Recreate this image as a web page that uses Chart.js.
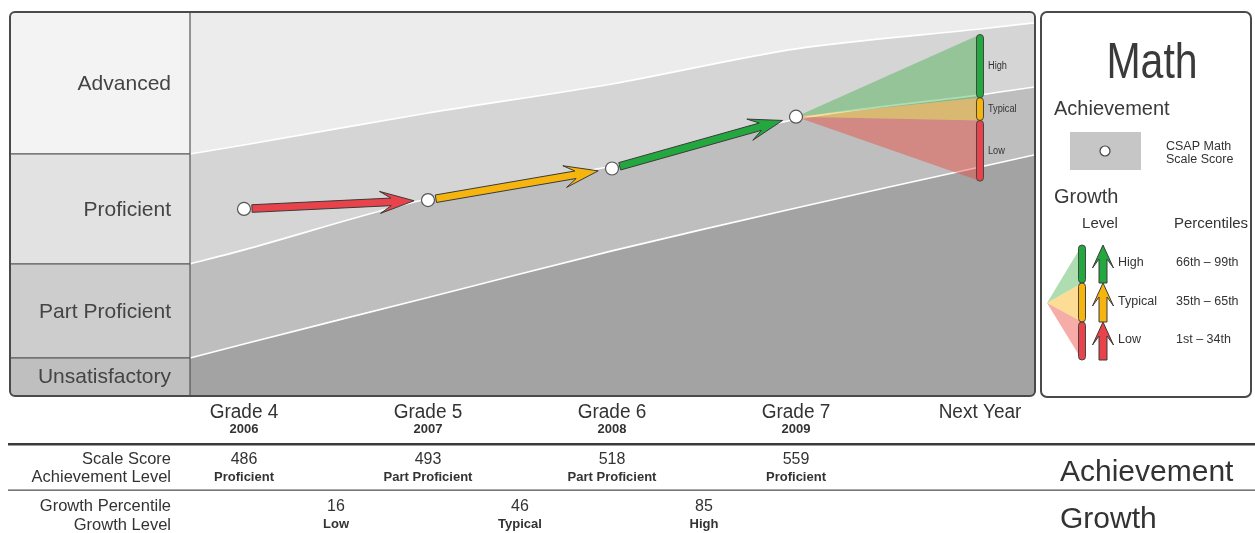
<!DOCTYPE html>
<html><head><meta charset="utf-8">
<script src="https://cdn.jsdelivr.net/npm/chart.js@4.4.0/dist/chart.umd.min.js"></script>
<style>
html,body{margin:0;padding:0;background:#fff;}
#wrap{position:relative;width:1255px;height:533px;}
</style></head><body>
<div id="wrap"><canvas id="c"></canvas></div>
<script>
// ---------- data ----------
const grades = ['Grade 4','Grade 5','Grade 6','Grade 7','Next Year'];
const years = ['2006','2007','2008','2009',''];
const scaleScores = [486,493,518,559];
const achievementLevels = ['Proficient','Part Proficient','Part Proficient','Proficient'];
const growthPercentiles = [16,46,85];
const growthLevels = ['Low','Typical','High'];
const levelNames = ['Advanced','Proficient','Part Proficient','Unsatisfactory'];
const cutX = [-0.2935,0,1,2,3,4,4.2935];
const cutAdvanced = [529.5,536.6,561.9,584.9,612.6,628.4,633.2];
const cutProficient = [442.5,453.6,494,520,557,576.2,582.5];
const cutPartProficient = [368.1,379.2,416,452.8,486.8,519.2,528.7];
const projectionNames = ['High','Typical','Low'];
const projectionEdges = [624,574,556,508];
const legendPercentiles = ['66th \u2013 99th','35th \u2013 65th','1st \u2013 34th'];

// ---------- style ----------
const FONT = '"Liberation Sans", Arial, sans-serif';
const TXT = '#3a3a3a';
const growthColors = {High:'#22a83f', Typical:'#f5b50e', Low:'#e8434a'};
const coneColors = {High:'rgba(60,175,70,0.42)', Typical:'rgba(250,180,20,0.45)', Low:'rgba(235,70,60,0.45)'};
const bandPlot = ['#ececec','#d5d5d5','#bebebe','#a3a3a3'];
const bandLabel = ['#f3f3f3','#e2e2e2','#cdcdcd','#bfbfbf'];

function rr(c,x,y,w,h,r){c.beginPath();c.moveTo(x+r,y);c.lineTo(x+w-r,y);c.arcTo(x+w,y,x+w,y+r,r);c.lineTo(x+w,y+h-r);c.arcTo(x+w,y+h,x+w-r,y+h,r);c.lineTo(x+r,y+h);c.arcTo(x,y+h,x,y+h-r,r);c.lineTo(x,y+r);c.arcTo(x,y,x+r,y,r);c.closePath();}
function vbar(c,x,y1,y2,w,color){rr(c,x-w/2,y1,w,y2-y1,w/2);c.fillStyle=color;c.fill();c.lineWidth=1;c.strokeStyle='#444';c.stroke();}
function arrow(c,x1,y1,x2,y2,color,o){
  const dx=x2-x1,dy=y2-y1,L=Math.hypot(dx,dy),ux=dx/L,uy=dy/L,nx=-uy,ny=ux;
  const P=(a,b)=>[x1+ux*a+nx*b,y1+uy*a+ny*b];
  const pts=[P(0,o.sw),P(L-o.notch,o.sw),P(L-o.hl,o.hw),P(L,0),P(L-o.hl,-o.hw),P(L-o.notch,-o.sw),P(0,-o.sw)];
  c.beginPath();pts.forEach((p,i)=>i?c.lineTo(p[0],p[1]):c.moveTo(p[0],p[1]));c.closePath();
  c.fillStyle=color;c.fill();c.lineWidth=1;c.lineJoin='miter';c.strokeStyle='#3a3a3a';c.stroke();
}
function txt(c,s,x,y,font,align,color,base,sx){
  c.save();c.font=font;c.textAlign=align||'left';c.textBaseline=base||'alphabetic';c.fillStyle=color||TXT;
  if(sx){c.translate(x,y);c.scale(sx,1);c.fillText(s,0,0);}else c.fillText(s,x,y);
  c.restore();
}

const pts = (xs,ys)=>xs.map((x,i)=>({x,y:ys[i]}));

const bgPlugin = {
  id:'bg',
  beforeDraw(chart){
    const c=chart.ctx,a=chart.chartArea,ys=chart.scales.y;
    c.save();
    c.fillStyle='#fff';c.fillRect(0,0,chart.width,chart.height);
    c.fillStyle=bandPlot[3];c.fillRect(a.left,a.top,a.right-a.left,a.bottom-a.top);
    const edges=[a.top,ys.getPixelForValue(cutAdvanced[0]),ys.getPixelForValue(cutProficient[0]),ys.getPixelForValue(cutPartProficient[0]),a.bottom];
    for(let i=0;i<4;i++){c.fillStyle=bandLabel[i];c.fillRect(10,edges[i],a.left-10,edges[i+1]-edges[i]);}
    c.restore();
  },
  afterDatasetDraw(chart,args){
    if(args.index!==1) return;
    const c=chart.ctx,xs=chart.scales.x,ys=chart.scales.y;
    const ax=xs.getPixelForValue(3),ay=ys.getPixelForValue(scaleScores[3]),bx=xs.getPixelForValue(4);
    c.save();
    for(let i=0;i<3;i++){
      c.beginPath();c.moveTo(ax,ay);c.lineTo(bx,ys.getPixelForValue(projectionEdges[i]));c.lineTo(bx,ys.getPixelForValue(projectionEdges[i+1]));c.closePath();
      c.fillStyle=coneColors[projectionNames[i]];c.fill();
    }
    c.restore();
  },
  afterDatasetsDraw(chart){
    const c=chart.ctx,xs=chart.scales.x,ys=chart.scales.y;
    c.save();
    for(let i=0;i<growthLevels.length;i++){
      const x1=xs.getPixelForValue(i),y1=ys.getPixelForValue(scaleScores[i]);
      const x2=xs.getPixelForValue(i+1),y2=ys.getPixelForValue(scaleScores[i+1]);
      const L=Math.hypot(x2-x1,y2-y1),ux=(x2-x1)/L,uy=(y2-y1)/L;
      arrow(c,x1+ux*8,y1+uy*8,x2-ux*14,y2-uy*14,growthColors[growthLevels[i]],{sw:3.8,hl:34,hw:11,notch:23});
    }
    const bx=xs.getPixelForValue(4);
    for(let i=0;i<3;i++){
      const t=ys.getPixelForValue(projectionEdges[i]),b=ys.getPixelForValue(projectionEdges[i+1]);
      vbar(c,bx,t,b,7,growthColors[projectionNames[i]]);
      txt(c,projectionNames[i],bx+8,(t+b)/2,'10px '+FONT,'left','#333','middle',0.92);
    }
    c.restore();
  },
  afterDraw(chart){
    const c=chart.ctx,a=chart.chartArea,xs=chart.scales.x,ys=chart.scales.y;
    c.save();
    // left panel lines & labels
    const edges=[a.top,ys.getPixelForValue(cutAdvanced[0]),ys.getPixelForValue(cutProficient[0]),ys.getPixelForValue(cutPartProficient[0]),a.bottom];
    c.strokeStyle='#555';c.lineWidth=1.2;
    for(let i=1;i<4;i++){c.beginPath();c.moveTo(10,edges[i]);c.lineTo(a.left,edges[i]);c.stroke();}
    c.beginPath();c.moveTo(a.left,a.top);c.lineTo(a.left,a.bottom);c.stroke();
    for(let i=0;i<4;i++) txt(c,levelNames[i],171,(edges[i]+edges[i+1])/2+1,'21px '+FONT,'right','#444','middle');
    // outer frame
    rr(c,10,12,1025,384,5);c.lineWidth=2;c.strokeStyle='#4a4a4a';c.stroke();
    // legend panel
    rr(c,1041,12,210,385,6);c.lineWidth=2;c.strokeStyle='#4a4a4a';c.stroke();
    txt(c,'Math',1152,78,'50px '+FONT,'center','#3a3a3a','alphabetic',0.82);
    txt(c,'Achievement',1054,115,'20px '+FONT,'left','#3a3a3a');
    c.fillStyle='#c6c6c6';c.fillRect(1070,132,71,38);
    c.beginPath();c.arc(1105,151,5,0,Math.PI*2);c.fillStyle='#fff';c.fill();c.lineWidth=1.2;c.strokeStyle='#444';c.stroke();
    txt(c,'CSAP Math',1166,150,'12.5px '+FONT,'left','#333');
    txt(c,'Scale Score',1166,163,'12.5px '+FONT,'left','#333');
    txt(c,'Growth',1054,203,'20px '+FONT,'left','#3a3a3a');
    txt(c,'Level',1100,228,'15px '+FONT,'center','#333');
    txt(c,'Percentiles',1211,228,'15px '+FONT,'center','#333');
    const segY=[245,283,322,360], apx=1047, apy=303, lbx=1082, lax=1103;
    for(let i=0;i<3;i++){
      c.beginPath();c.moveTo(apx,apy);c.lineTo(lbx,segY[i]);c.lineTo(lbx,segY[i+1]);c.closePath();c.fillStyle=coneColors[projectionNames[i]];c.fill();
    }
    for(let i=0;i<3;i++){
      vbar(c,lbx,segY[i],segY[i+1],7,growthColors[projectionNames[i]]);
      arrow(c,lax,segY[i+1],lax,segY[i],growthColors[projectionNames[i]],{sw:4,hl:23,hw:10.5,notch:14});
      const my=(segY[i]+segY[i+1])/2-1;
      txt(c,projectionNames[i],1118,my,'12.5px '+FONT,'left','#333','middle');
      txt(c,legendPercentiles[i],1176,my,'12.5px '+FONT,'left','#333','middle');
    }
    // table
    for(let i=0;i<grades.length;i++){
      const x=xs.getPixelForValue(i);
      txt(c,grades[i],x,418,'20px '+FONT,'center','#333','alphabetic',0.95);
      if(years[i]) txt(c,years[i],x,433,'bold 13px '+FONT,'center','#333');
    }
    c.fillStyle='#3a3a3a';c.fillRect(8,443,1247,2.5);
    c.fillStyle='#555';c.fillRect(8,489.5,1247,1.3);
    txt(c,'Scale Score',171,464,'16.5px '+FONT,'right','#333');
    txt(c,'Achievement Level',171,482,'16.5px '+FONT,'right','#333');
    txt(c,'Growth Percentile',171,511,'16.5px '+FONT,'right','#333');
    txt(c,'Growth Level',171,530,'16.5px '+FONT,'right','#333');
    for(let i=0;i<scaleScores.length;i++){
      const x=xs.getPixelForValue(i);
      txt(c,String(scaleScores[i]),x,464,'16px '+FONT,'center','#333');
      txt(c,achievementLevels[i],x,481,'bold 13px '+FONT,'center','#333');
    }
    for(let i=0;i<growthPercentiles.length;i++){
      const x=xs.getPixelForValue(i+0.5);
      txt(c,String(growthPercentiles[i]),x,511,'16px '+FONT,'center','#333');
      txt(c,growthLevels[i],x,528,'bold 13px '+FONT,'center','#333');
    }
    txt(c,'Achievement',1060,481,'30px '+FONT,'left','#333');
    txt(c,'Growth',1060,528,'30px '+FONT,'left','#333');
    c.restore();
  }
};

const lineDs = (label,data,fill,bg)=>({label,data,borderColor:'#fff',borderWidth:1.6,pointRadius:0,fill,backgroundColor:bg,tension:0.3});

new Chart(document.getElementById('c'),{
  type:'line',
  data:{datasets:[
    {label:'Scale Score',data:scaleScores.map((s,i)=>({x:i,y:s})),showLine:false,pointRadius:6.5,pointHoverRadius:6.5,pointBackgroundColor:'#fff',pointBorderColor:'#555',pointBorderWidth:1.2,fill:false},
    lineDs('Advanced cut',pts(cutX,cutAdvanced),'end',bandPlot[0]),
    lineDs('Proficient cut',pts(cutX,cutProficient),'-1',bandPlot[1]),
    lineDs('Part Proficient cut',pts(cutX,cutPartProficient),'-1',bandPlot[2])
  ]},
  options:{
    responsive:true,maintainAspectRatio:false,animation:false,devicePixelRatio:1,
    layout:{padding:{left:190,top:13,right:221,bottom:138}},
    scales:{
      x:{type:'linear',min:cutX[0],max:cutX[cutX.length-1],display:false},
      y:{type:'linear',min:338.8,max:641,display:false}
    },
    plugins:{legend:{display:false},tooltip:{enabled:false},filler:{drawTime:'beforeDatasetsDraw'}},
    events:[]
  },
  plugins:[bgPlugin]
});
</script>
</body></html>
